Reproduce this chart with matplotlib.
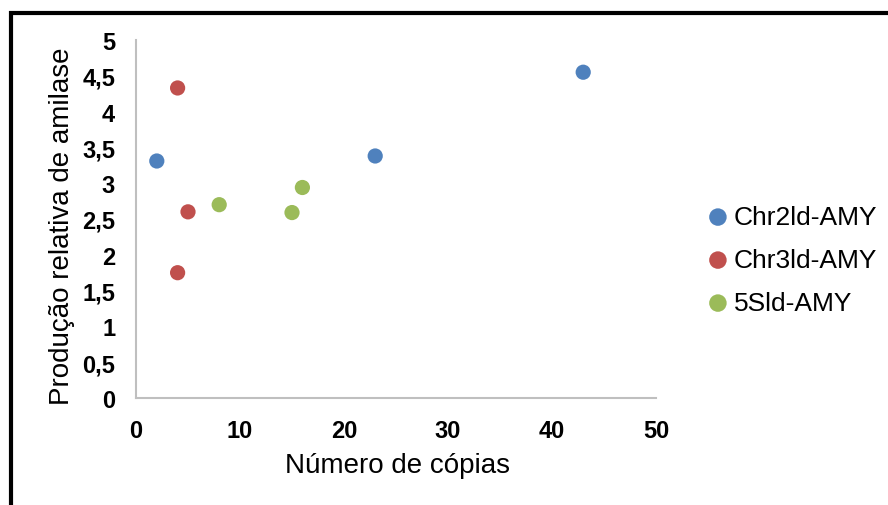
import matplotlib
matplotlib.use("Agg")
import matplotlib.pyplot as plt
from matplotlib.patches import Rectangle

plt.rcParams["font.family"] = ["Liberation Sans", "DejaVu Sans"]

# values
series_names = ["Chr2ld-AMY", "Chr3ld-AMY", "5Sld-AMY"]
series_colors = ["#4F81BD", "#C0504D", "#9BBB59"]
chr2_x = [2, 23, 43]
chr2_y = [3.31, 3.38, 4.55]
chr3_x = [4, 5, 4]
chr3_y = [4.33, 2.60, 1.75]
sld5_x = [8, 15, 16]
sld5_y = [2.70, 2.59, 2.94]

x_ticks = [0, 10, 20, 30, 40, 50]
y_ticks = [0, 0.5, 1, 1.5, 2, 2.5, 3, 3.5, 4, 4.5, 5]
y_tick_labels = ["0", "0,5", "1", "1,5", "2", "2,5", "3", "3,5", "4", "4,5", "5"]

fig = plt.figure(figsize=(8.88, 5.06), dpi=100)
ax = fig.add_axes([136 / 888, 1 - 399 / 506, 520 / 888, 358 / 506])

for xs, ys, name, col in zip([chr2_x, chr3_x, sld5_x], [chr2_y, chr3_y, sld5_y],
                             series_names, series_colors):
    ax.scatter(xs, ys, s=120, color=col, edgecolors="none", label=name, zorder=3,
               clip_on=False)

ax.set_xlim(0, 50)
ax.set_ylim(0, 5)
ax.set_xticks(x_ticks)
ax.set_xticklabels([str(t) for t in x_ticks])
ax.set_yticks(y_ticks)
ax.set_yticklabels(y_tick_labels)
ax.tick_params(length=0, labelsize=17, pad=15)
for lab in ax.get_xticklabels() + ax.get_yticklabels():
    lab.set_fontweight("bold")

for side in ("top", "right"):
    ax.spines[side].set_visible(False)
for side in ("left", "bottom"):
    ax.spines[side].set_color("#bfbfbf")
    ax.spines[side].set_linewidth(1.5)

fig.text(397 / 888, 1 - 466 / 506, "Número de cópias", fontsize=20,
         ha="center", va="center")
fig.text(62 / 888, 1 - 226 / 506, "Produção relativa de amilase", fontsize=20,
         ha="center", va="center", rotation=90)

fig.legend(loc="center left", bbox_to_anchor=(710 / 888, 1 - 261 / 506),
           frameon=False, fontsize=19, handlelength=0.6, handletextpad=0.3,
           labelspacing=0.72, markerscale=1.15, borderaxespad=0, borderpad=0)

# black outer frame (right and bottom edges fall outside the picture)
fig.patches.append(Rectangle((11 / 888, -0.1), 1.2, 1.1 - 13.5 / 506,
                             transform=fig.transFigure, fill=False,
                             edgecolor="black", linewidth=3))

fig.savefig("out.png", dpi=100)
